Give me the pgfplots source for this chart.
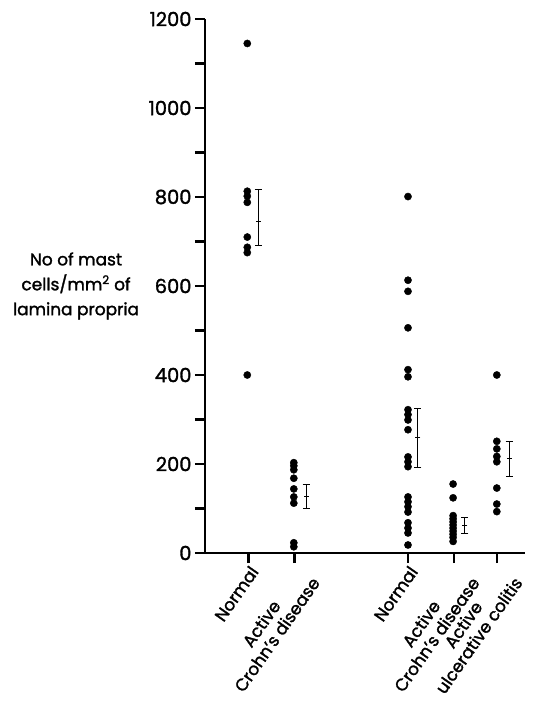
\documentclass[border=0pt]{standalone}
\usepackage{pgfplots}
\pgfplotsset{compat=1.18}
\usepackage{fontspec}
\setmainfont{Poppins}[FakeBold=1.6]
\begin{document}
\begin{tikzpicture}
\begin{axis}[
  at={(0,0)}, anchor=origin,
  scale only axis,
  width=320bp, height=534bp,
  xmin=0, xmax=6.81, ymin=0, ymax=1200,
  axis lines=left,
  axis line style={-, line width=2.6bp},
  xtick={0.93,1.9,4.32,5.3,6.21},
  xticklabels={Normal, {Active\\Crohn's disease}, Normal, {Active\\Crohn's disease}, {Active\\ulcerative colitis}},
  xticklabel style={rotate=55, anchor=north east, align=center, font=\fontsize{17}{19}\selectfont, inner sep=1bp},
  ytick={0,200,...,1200},
  minor ytick={100,300,...,1100},
  yticklabel style={font=\fontsize{19.5}{22}\selectfont},
  /pgf/number format/assume math mode=true,
  /pgf/number format/1000 sep={},
  tick align=outside,
  major tick length=10bp, minor tick length=10bp,
  tick style={black, line width=2.6bp},
  minor tick style={black, line width=2.6bp},
  ylabel={No of mast\\cells/mm\textsuperscript{2} of\\lamina propria},
  ylabel style={rotate=-90, align=center, font=\fontsize{17}{25}\selectfont, at={(axis description cs:-0.403,0.5)}, anchor=center},
  clip=false,
]
\coordinate (O) at (rel axis cs:0,0);
% dots
\addplot[only marks, mark=*, mark size=3.6bp, black] coordinates {
 (0.9,1145) (0.9,813) (0.9,802) (0.9,788) (0.9,710) (0.9,687) (0.9,675) (0.9,400)
};
\addplot[only marks, mark=*, mark size=3.6bp, black] coordinates {
 (1.89,203) (1.89,196) (1.89,187) (1.89,168) (1.89,144) (1.89,126) (1.89,112) (1.89,23) (1.89,14)
};
\addplot[only marks, mark=*, mark size=3.6bp, black] coordinates {
 (4.32,801) (4.32,613) (4.32,588) (4.32,506) (4.32,412) (4.32,396) (4.32,322) (4.32,311) (4.32,299) (4.32,277)
 (4.32,216) (4.32,205) (4.32,194) (4.32,126) (4.32,115) (4.32,104) (4.32,92) (4.32,68) (4.32,56) (4.32,45) (4.32,18)
};
\addplot[only marks, mark=*, mark size=3.6bp, black] coordinates {
 (5.28,155) (5.28,124) (5.28,84) (5.28,77) (5.28,70) (5.28,63) (5.28,56) (5.28,49) (5.28,42) (5.28,35) (5.28,26)
};
\addplot[only marks, mark=*, mark size=3.6bp, black] coordinates {
 (6.21,400) (6.21,251) (6.21,234) (6.21,217) (6.21,205) (6.21,146) (6.21,110) (6.21,93)
};
% means with error bars
\addplot[only marks, black, mark=-, mark size=2.5bp, mark options={line width=1bp},
  error bars/.cd, y dir=both, y explicit,
  error bar style={line width=1bp},
  error mark options={line width=1bp, mark size=3.5bp, rotate=90}]
 coordinates {
 (1.13,745) += (0,71) -= (0,53)
 (2.15,127) += (0,28) -= (0,28)
 (4.53,260) += (0,64) -= (0,68)
 (5.53,61) += (0,18) -= (0,18)
 (6.47,212) += (0,39) -= (0,40)
};
\end{axis}
\pgfresetboundingbox
\useasboundingbox (O) ++(-205bp,-152bp) rectangle ++(537bp,705bp);
\end{tikzpicture}
\end{document}
